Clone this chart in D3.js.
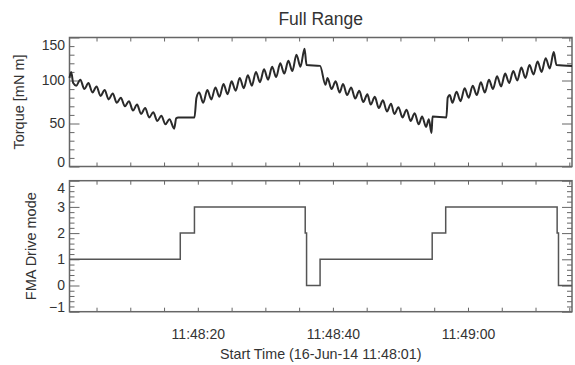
<!DOCTYPE html>
<html>
<head>
<meta charset="utf-8">
<script src="https://cdn.jsdelivr.net/npm/d3@7"></script>
<style>
  body { margin: 0; background: #fff; }
  text { font-family: "Liberation Sans", Arial, sans-serif; fill: #333; }
  .tick text { font-size: 14px; }
</style>
</head>
<body>
<div id="chart"></div>
<script>
// seconds after 11:48:00 on 16-Jun-14
const t0 = Date.UTC(2014, 5, 16, 11, 48, 0);
const xDomainSec = [1.0, 75.4];

// --- torque (mN m) ---
const torqueSec = [
  1.0, 1.25, 1.55, 2.0, 2.6, 3.2, 3.8, 4.4, 5.0, 5.6, 6.2, 6.8, 7.4, 8.0, 8.6, 9.2, 9.8, 10.4,
  11.0, 11.6, 12.2, 12.8, 13.4, 14.0, 14.6, 15.2, 15.8, 16.5, 16.8, 17.1, 19.5, 19.8,
  20.2, 20.8, 21.4, 22.0, 22.6, 23.2, 23.8, 24.4, 25.0, 25.6, 26.2, 26.8, 27.4, 28.0, 28.6, 29.2,
  29.8, 30.4, 31.0, 31.6, 32.2, 32.8, 33.4, 34.0, 34.6, 35.2, 35.8, 36.1, 38.1,
  38.9, 39.2, 39.8, 40.4, 41.0, 41.5, 42.1, 42.7, 43.3, 43.9, 44.5, 45.1, 45.6, 46.2, 46.8, 47.4,
  48.0, 48.6, 49.1, 49.7, 50.3, 50.9, 51.5, 52.1, 52.7, 53.2, 53.8, 54.2, 54.6, 54.75, 56.8, 57.0,
  57.3, 57.7, 58.3, 58.9, 59.5, 60.1, 60.7, 61.3, 61.9, 62.5, 63.1, 63.7, 64.3, 64.9, 65.5, 66.1,
  66.7, 67.3, 67.9, 68.5, 69.1, 69.7, 70.3, 70.9, 71.5, 72.1, 72.7, 73.1, 75.4
];
const torqueVal = [
  103, 110, 97, 94, 101, 90, 97, 86, 93, 82, 89, 78, 85, 74, 80, 70, 76, 65,
  72, 61, 68, 57, 63, 53, 59, 49, 55, 44, 56, 57, 57, 80,
  86, 74, 89, 78, 92, 81, 96, 84, 99, 88, 103, 91, 106, 94, 110, 98,
  113, 101, 116, 104, 120, 108, 123, 111, 130, 116, 137, 118, 117,
  95, 103, 90, 99, 86, 96, 83, 92, 79, 88, 75, 84, 72, 81, 68, 77,
  64, 73, 61, 69, 57, 66, 53, 62, 49, 58, 46, 55, 39, 58, 57, 80,
  83, 74, 87, 76, 91, 80, 94, 83, 98, 86, 101, 90, 105, 93, 108, 97,
  111, 100, 115, 103, 118, 107, 122, 110, 126, 114, 133, 118, 117
];
const torqueTicks = [0, 50, 100, 150];

// --- FMA drive mode (step) ---
const modeSec = [1.0, 17.4, 19.5, 35.9, 36.1, 38.1, 54.7, 56.7, 73.2, 73.4, 75.4];
const modeVal = [1, 2, 3, 2, 0, 1, 2, 3, 2, 0, 0];
const modeTicks = [-1, 0, 1, 2, 3, 4];

const W = 575, H = 365;
const margin = { left: 69.5, right: 3 };
const top1 = 37.5, bot1 = 166.5;
const top2 = 180.7, bot2 = 311.7;

const svg = d3.select("#chart").append("svg")
  .attr("width", W)
  .attr("height", H);

const toDate = s => new Date(t0 + s * 1000);

const x = d3.scaleUtc()
  .domain(xDomainSec.map(toDate))
  .range([margin.left, W - margin.right]);

const y1 = d3.scaleLinear().domain([0, 150]).range([bot1, top1]);
const y2 = d3.scaleLinear().domain([-1, 4]).range([bot2, top2]);

const xTicks = d3.utcSecond.every(5).range(x.domain()[0], x.domain()[1]);
const fmt = d3.utcFormat("%H:%M:%S");

// title
svg.append("text")
  .attr("x", (margin.left + W - margin.right) / 2)
  .attr("y", 25)
  .attr("text-anchor", "middle")
  .style("font-size", "17.5px")
  .text("Full Range");

function panel(y, top, bot, ticks, minorStep, label, labelX, showX) {
  const g = svg.append("g");
  const xr = x.range();

  // minor y ticks (left + right)
  const minors = d3.range(y.domain()[0], y.domain()[1] + 1e-9, minorStep)
    .filter(v => !ticks.some(t => Math.abs(t - v) < 1e-6));
  g.append("g")
    .attr("transform", `translate(${xr[0]},0)`)
    .call(d3.axisLeft(y).tickValues(minors).tickSize(-5).tickFormat(""));
  g.append("g")
    .attr("transform", `translate(${xr[1]},0)`)
    .call(d3.axisRight(y).tickValues(minors).tickSize(-5).tickFormat(""));

  // major y ticks
  const left = g.append("g")
    .attr("transform", `translate(${xr[0]},0)`)
    .call(d3.axisLeft(y).tickValues(ticks).tickSize(-10).tickPadding(4.5).tickFormat(d3.format("d")));
  g.append("g")
    .attr("transform", `translate(${xr[1]},0)`)
    .call(d3.axisRight(y).tickValues(ticks).tickSize(-10).tickFormat(""));

  // nudge end labels inward like the original plot
  left.selectAll(".tick text")
    .attr("dy", d => d === ticks[ticks.length - 1] ? "0.85em" : d === ticks[0] ? "0.02em" : "0.32em");

  // x ticks top + bottom
  g.append("g")
    .attr("transform", `translate(0,${bot})`)
    .call(d3.axisBottom(x).tickValues(xTicks).tickSize(-4).tickPadding(17)
      .tickFormat(d => (showX && d.getUTCSeconds() % 20 === 0) ? fmt(d) : ""));
  g.append("g")
    .attr("transform", `translate(0,${top})`)
    .call(d3.axisTop(x).tickValues(xTicks).tickSize(-4).tickFormat(""));

  g.selectAll(".domain").remove();
  g.selectAll(".tick line").attr("stroke", "#666").attr("stroke-width", 1);

  // frame
  g.append("rect")
    .attr("x", xr[0]).attr("y", top)
    .attr("width", xr[1] - xr[0]).attr("height", bot - top)
    .attr("fill", "none")
    .attr("stroke", "#666")
    .attr("stroke-width", 1.5);

  // y title
  g.append("text")
    .attr("transform", `translate(${labelX},${(top + bot) / 2}) rotate(-90)`)
    .attr("text-anchor", "middle")
    .style("font-size", "14.5px")
    .text(label);
}

panel(y1, top1, bot1, torqueTicks, 10, "Torque [mN m]", 24, false);
panel(y2, top2, bot2, modeTicks, 0.2, "FMA Drive mode", 36, true);

// torque line (monotone keeps the flats flat, rounds the wiggles)
const torqueLine = d3.line()
  .x((d, i) => x(toDate(torqueSec[i])))
  .y(d => y1(d))
  .curve(d3.curveMonotoneX);

svg.append("path")
  .datum(torqueVal)
  .attr("d", torqueLine)
  .attr("fill", "none")
  .attr("stroke", "#2a2a2a")
  .attr("stroke-width", 2)
  .attr("stroke-linejoin", "round");

// mode line
const modeLine = d3.line()
  .x((d, i) => x(toDate(modeSec[i])))
  .y(d => y2(d))
  .curve(d3.curveStepAfter);

svg.append("path")
  .datum(modeVal)
  .attr("d", modeLine)
  .attr("fill", "none")
  .attr("stroke", "#555")
  .attr("stroke-width", 1.5);

// x title
svg.append("text")
  .attr("x", (margin.left + W - margin.right) / 2)
  .attr("y", 359)
  .attr("text-anchor", "middle")
  .style("font-size", "14.3px")
  .text("Start Time (16-Jun-14 11:48:01)");
</script>
</body>
</html>
